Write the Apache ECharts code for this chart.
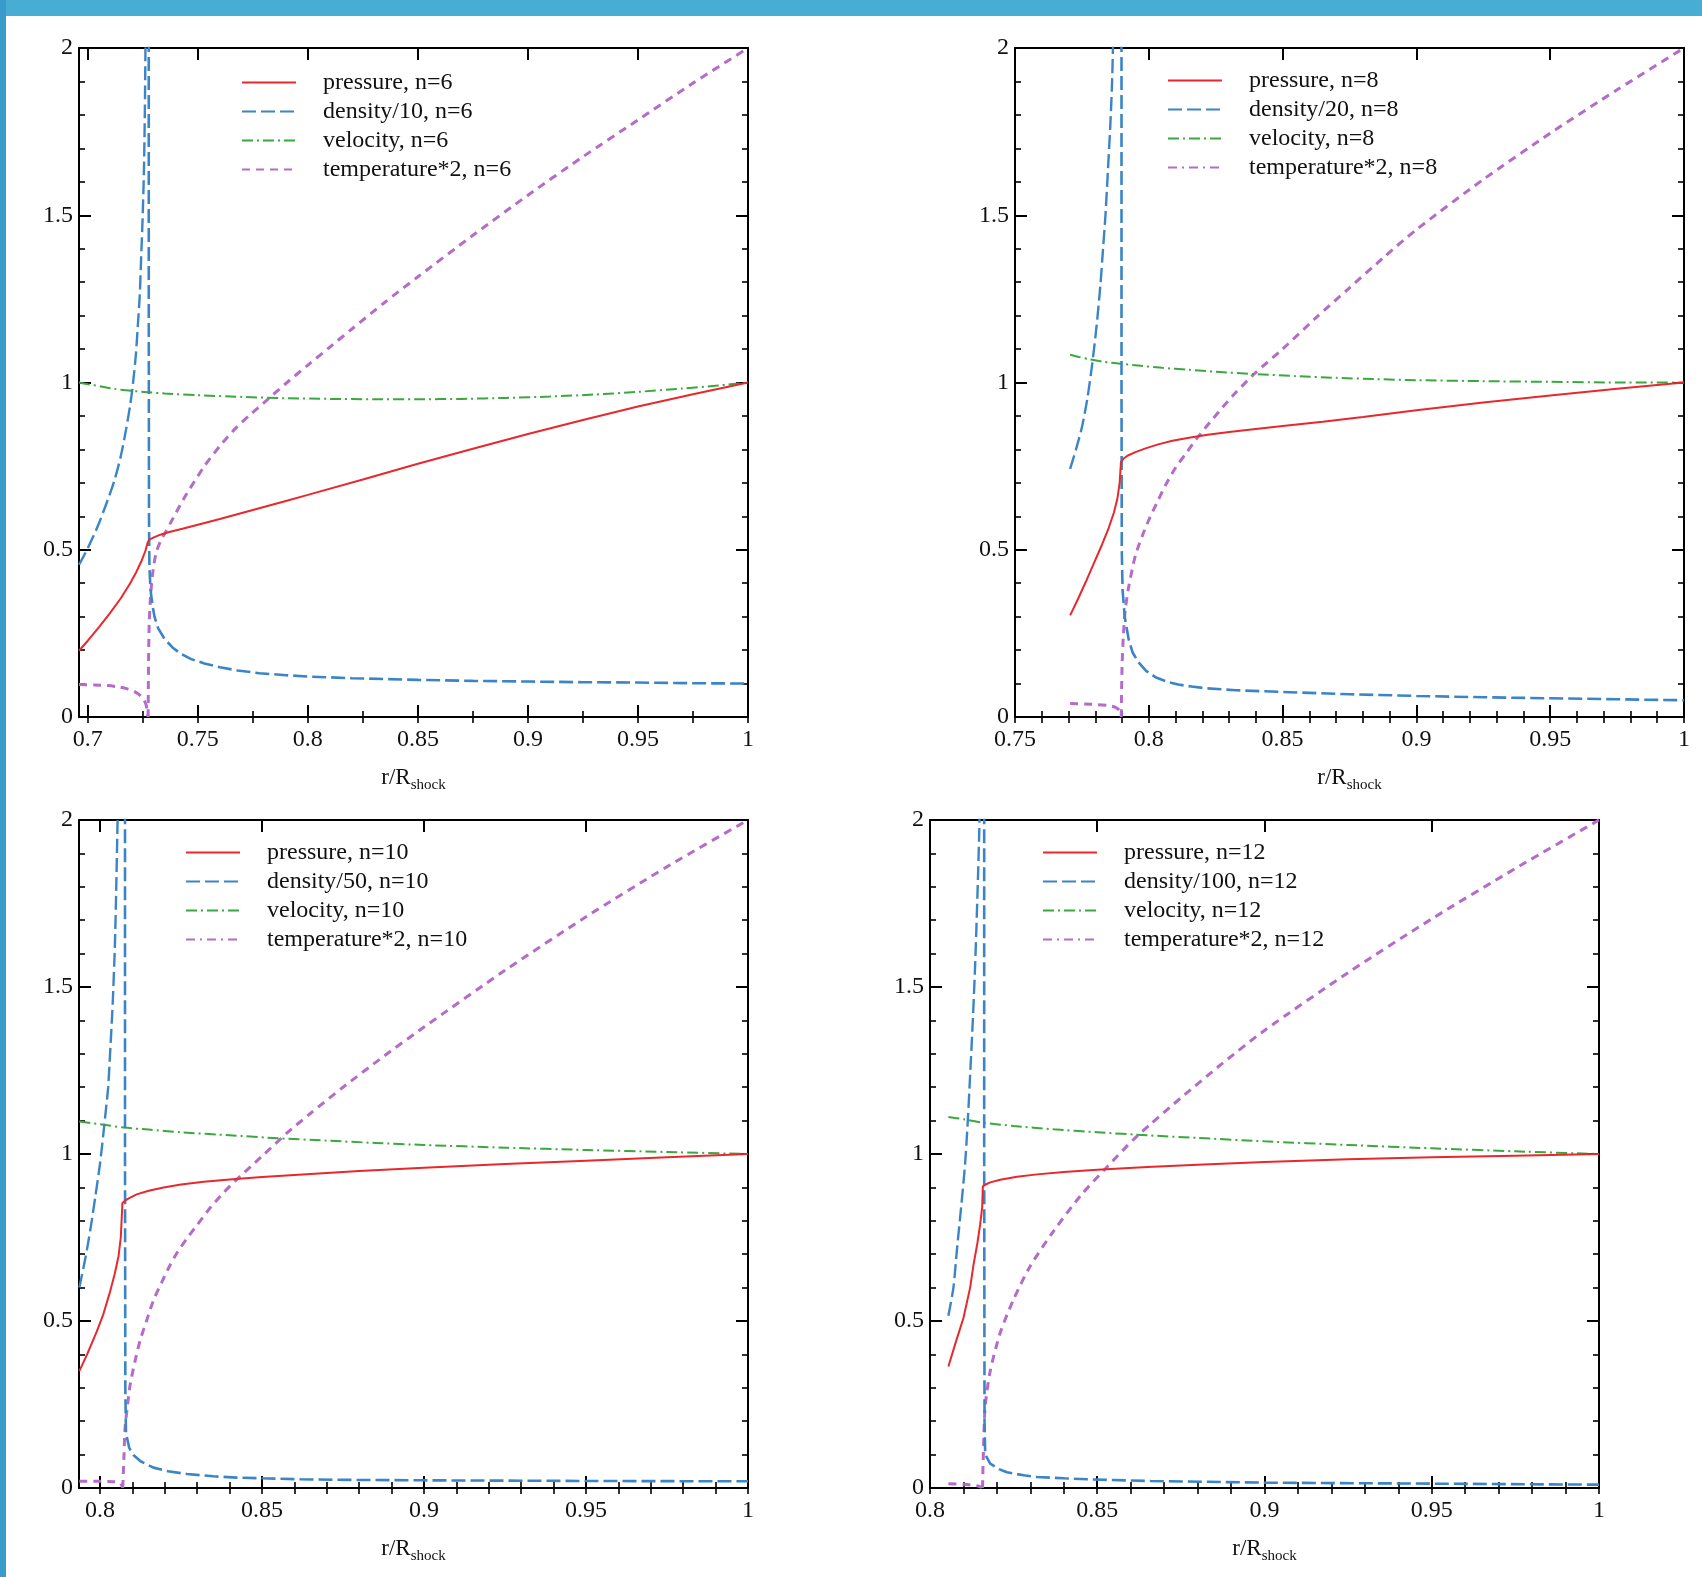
<!DOCTYPE html>
<html>
<head>
<meta charset="utf-8">
<script src="https://cdn.jsdelivr.net/npm/echarts@6/dist/echarts.min.js"></script>
<style>
  html, body { margin: 0; padding: 0; background: #fff; }
  #chart { width: 1702px; height: 1577px; }
</style>
</head>
<body>
<div id="chart"></div>
<script>
// Self-similar shocked-shell profiles between reverse shock and forward shock,
// plotted against r / R_shock for ejecta power-law indices n = 6, 8, 10, 12.

// ---------- tick labels ----------
const Y_MAJOR = [0, 0.5, 1, 1.5, 2];
const X_MAJOR_6 = [0.7, 0.75, 0.8, 0.85, 0.9, 0.95, 1];
const X_MAJOR_8 = [0.75, 0.8, 0.85, 0.9, 0.95, 1];
const X_MAJOR_10 = [0.8, 0.85, 0.9, 0.95, 1];
const X_MAJOR_12 = [0.8, 0.85, 0.9, 0.95, 1];

// ---------- n = 6 ----------
const P6 = [[0.696,0.198],[0.7,0.228],[0.705,0.268],[0.71,0.31],[0.715,0.355],[0.719,0.397],[0.722,0.433],[0.7245,0.468],[0.7262,0.497],[0.7272,0.522],[0.728,0.53],[0.73,0.537],[0.733,0.545],[0.737,0.553],[0.743,0.563],[0.75,0.575],[0.76,0.592],[0.775,0.619],[0.79,0.646],[0.8,0.664],[0.825,0.71],[0.85,0.757],[0.875,0.802],[0.9,0.846],[0.925,0.888],[0.95,0.928],[0.975,0.965],[1,1]];
const V6 = [[0.696,1.0],[0.7,0.995],[0.706,0.988],[0.712,0.981],[0.72,0.975],[0.7272,0.971],[0.735,0.967],[0.75,0.962],[0.77,0.957],[0.79,0.953],[0.81,0.951],[0.83,0.95],[0.85,0.95],[0.87,0.951],[0.89,0.954],[0.91,0.958],[0.93,0.964],[0.95,0.972],[0.97,0.982],[0.985,0.99],[1,1.0]];
const D6_IN = [[0.696,0.455],[0.7,0.505],[0.7045,0.57],[0.708,0.63],[0.712,0.705],[0.715,0.78],[0.7174,0.86],[0.7192,0.93],[0.7205,0.995],[0.7218,1.08],[0.7227,1.167],[0.7236,1.26],[0.7242,1.366],[0.7249,1.49],[0.7255,1.631],[0.7259,1.8],[0.7262,2.0],[0.7264,2.2]];
const D6_OUT = [[0.7277,2.2],[0.7277,1.2],[0.7278,0.6],[0.728,0.45],[0.7285,0.38],[0.7295,0.33],[0.7303,0.3],[0.732,0.265],[0.735,0.232],[0.7385,0.208],[0.742,0.19],[0.747,0.173],[0.753,0.16],[0.76,0.149],[0.768,0.139],[0.778,0.131],[0.79,0.125],[0.8,0.121],[0.82,0.116],[0.85,0.111],[0.875,0.108],[0.9,0.106],[0.925,0.104],[0.95,0.103],[0.975,0.101],[1,0.1]];
const T6_IN = [[0.696,0.097],[0.703,0.096],[0.709,0.094],[0.714,0.09],[0.718,0.084],[0.721,0.077],[0.7235,0.066],[0.7253,0.053],[0.7264,0.038],[0.727,0.02],[0.7273,0.003]];
const T6_OUT = [[0.7274,0.0],[0.7276,0.16],[0.7279,0.28],[0.7285,0.36],[0.7295,0.43],[0.731,0.49],[0.733,0.525],[0.7355,0.555],[0.738,0.585],[0.741,0.622],[0.745,0.668],[0.753,0.75],[0.76,0.81],[0.767,0.862],[0.774,0.905],[0.781,0.945],[0.79,0.997],[0.8,1.052],[0.81,1.106],[0.82,1.16],[0.835,1.24],[0.85,1.316],[0.875,1.44],[0.9,1.56],[0.925,1.675],[0.95,1.785],[0.975,1.895],[1,2.0]];

// ---------- n = 8 ----------
const P8 = [[0.7706,0.304],[0.7735,0.352],[0.7765,0.405],[0.7795,0.46],[0.7825,0.515],[0.785,0.565],[0.787,0.612],[0.7883,0.655],[0.7891,0.7],[0.7896,0.762],[0.7905,0.772],[0.792,0.781],[0.795,0.792],[0.7988,0.803],[0.8035,0.815],[0.8088,0.826],[0.815,0.835],[0.822,0.844],[0.83,0.852],[0.84,0.861],[0.85,0.87],[0.865,0.883],[0.88,0.897],[0.9,0.917],[0.925,0.94],[0.95,0.961],[0.975,0.981],[1,1.0]];
const V8 = [[0.7706,1.083],[0.774,1.076],[0.778,1.069],[0.783,1.062],[0.7895,1.056],[0.797,1.05],[0.805,1.044],[0.815,1.038],[0.825,1.032],[0.84,1.025],[0.855,1.019],[0.87,1.014],[0.885,1.01],[0.9,1.007],[0.925,1.004],[0.95,1.002],[0.975,1.0],[1,1.0]];
const D8_IN = [[0.7706,0.742],[0.7728,0.8],[0.775,0.866],[0.777,0.95],[0.7788,1.052],[0.7805,1.17],[0.7819,1.29],[0.7829,1.4],[0.7838,1.5],[0.7847,1.63],[0.7856,1.766],[0.7862,1.88],[0.7866,2.0],[0.7869,2.2]];
const D8_OUT = [[0.7898,2.2],[0.7898,1.0],[0.7899,0.5],[0.7902,0.38],[0.791,0.3],[0.7925,0.231],[0.794,0.192],[0.796,0.165],[0.799,0.138],[0.8025,0.119],[0.807,0.105],[0.811,0.097],[0.816,0.091],[0.821,0.086],[0.8325,0.08],[0.85,0.075],[0.875,0.068],[0.9,0.063],[0.925,0.059],[0.95,0.056],[0.975,0.053],[1,0.05]];
const T8_IN = [[0.7706,0.04],[0.776,0.039],[0.781,0.037],[0.785,0.034],[0.7875,0.029],[0.789,0.02],[0.7896,0.003]];
const T8_OUT = [[0.7897,0.0],[0.79,0.15],[0.7905,0.245],[0.7912,0.32],[0.7925,0.39],[0.795,0.483],[0.7975,0.54],[0.8,0.589],[0.803,0.64],[0.8063,0.694],[0.81,0.745],[0.8138,0.787],[0.8175,0.828],[0.8213,0.866],[0.8275,0.925],[0.8325,0.97],[0.84,1.03],[0.85,1.1],[0.862,1.19],[0.875,1.283],[0.8875,1.372],[0.9,1.457],[0.925,1.607],[0.95,1.745],[0.975,1.875],[1,2.0]];

// ---------- n = 10 ----------
const P10 = [[0.7936,0.35],[0.796,0.4],[0.799,0.469],[0.801,0.52],[0.8031,0.588],[0.8045,0.64],[0.8057,0.694],[0.8064,0.75],[0.8069,0.853],[0.8078,0.861],[0.809,0.868],[0.8113,0.879],[0.815,0.89],[0.8196,0.9],[0.825,0.909],[0.832,0.917],[0.84,0.924],[0.85,0.931],[0.865,0.94],[0.88,0.949],[0.9,0.959],[0.925,0.97],[0.95,0.98],[0.975,0.99],[1,1.0]];
const V10 = [[0.7936,1.097],[0.8,1.089],[0.8075,1.079],[0.815,1.073],[0.825,1.065],[0.84,1.056],[0.855,1.047],[0.87,1.04],[0.885,1.033],[0.9,1.027],[0.925,1.019],[0.95,1.012],[0.975,1.006],[1,1.0]];
const D10_IN = [[0.7936,0.6],[0.7955,0.69],[0.797,0.773],[0.7985,0.87],[0.8,0.972],[0.8015,1.104],[0.8025,1.2],[0.8031,1.302],[0.8039,1.45],[0.8046,1.632],[0.805,1.8],[0.8054,2.0],[0.8056,2.2]];
const D10_OUT = [[0.8077,2.2],[0.8077,1.0],[0.8078,0.3],[0.808,0.165],[0.809,0.12],[0.8103,0.099],[0.8125,0.08],[0.8165,0.061],[0.821,0.05],[0.8268,0.042],[0.835,0.035],[0.8423,0.031],[0.85,0.029],[0.8619,0.026],[0.88,0.024],[0.9,0.023],[0.95,0.021],[1,0.02]];
const T10_IN = [[0.7936,0.02],[0.8,0.02],[0.804,0.019],[0.8062,0.016],[0.8069,0.003]];
const T10_OUT = [[0.807,0.0],[0.8074,0.1],[0.8077,0.178],[0.8085,0.25],[0.8093,0.31],[0.8108,0.38],[0.8124,0.443],[0.8145,0.505],[0.8165,0.562],[0.819,0.615],[0.8216,0.667],[0.824,0.708],[0.8268,0.747],[0.83,0.788],[0.834,0.839],[0.838,0.883],[0.8423,0.925],[0.8465,0.962],[0.8505,0.998],[0.8577,1.063],[0.865,1.122],[0.875,1.2],[0.8875,1.292],[0.9,1.38],[0.925,1.55],[0.95,1.71],[0.975,1.86],[1,2.0]];

// ---------- n = 12 ----------
const P12 = [[0.8055,0.364],[0.8075,0.43],[0.81,0.509],[0.812,0.6],[0.813,0.668],[0.8142,0.735],[0.815,0.79],[0.8156,0.84],[0.8158,0.903],[0.8165,0.908],[0.818,0.915],[0.821,0.923],[0.826,0.932],[0.832,0.939],[0.84,0.946],[0.85,0.953],[0.865,0.961],[0.88,0.968],[0.9,0.976],[0.925,0.984],[0.95,0.99],[0.975,0.995],[1,1.0]];
const V12 = [[0.8055,1.111],[0.81,1.104],[0.8158,1.094],[0.825,1.084],[0.837,1.074],[0.85,1.065],[0.865,1.056],[0.88,1.048],[0.9,1.038],[0.925,1.027],[0.95,1.017],[0.975,1.008],[1,1.0]];
const D12_IN = [[0.8055,0.516],[0.807,0.6],[0.808,0.708],[0.8093,0.84],[0.8105,0.972],[0.8113,1.1],[0.812,1.237],[0.8128,1.4],[0.8135,1.567],[0.8142,1.78],[0.8148,2.0],[0.815,2.2]];
const D12_OUT = [[0.8162,2.2],[0.8162,1.0],[0.8163,0.2],[0.8165,0.1],[0.818,0.073],[0.8205,0.057],[0.823,0.047],[0.828,0.038],[0.832,0.033],[0.84,0.029],[0.847,0.026],[0.866,0.021],[0.9,0.016],[0.95,0.013],[1,0.01]];
const T12_IN = [[0.8055,0.013],[0.81,0.011],[0.814,0.007],[0.8155,0.002]];
const T12_OUT = [[0.8157,0.0],[0.816,0.12],[0.8165,0.245],[0.818,0.35],[0.821,0.465],[0.825,0.565],[0.83,0.665],[0.837,0.77],[0.845,0.875],[0.853,0.962],[0.861,1.045],[0.866,1.09],[0.875,1.168],[0.8875,1.272],[0.9,1.37],[0.925,1.543],[0.95,1.704],[0.975,1.855],[1,2.0]];

// ---------- styling ----------
const FONT = '"Liberation Serif", "Times New Roman", Times, serif';
const INK = '#111';
const C_P = '#e8282c';
const C_D = '#3b84c6';
const C_V = '#3aa83c';
const C_T = '#b46cc8';

const PANELS = [
  { n: 6,  div: 10,  xMin: 0.696,  xMajor: X_MAJOR_6,  minorStep: 0.025,
    grid: { left: 79, top: 48, width: 669, height: 669 }, legend: { left: 241, top: 68 },
    P: P6, V: V6, D: [D6_IN, D6_OUT], T: [T6_IN, T6_OUT], tLegendDash: [8, 6] },
  { n: 8,  div: 20,  xMin: 0.75,   xMajor: X_MAJOR_8,  minorStep: 0.01,
    grid: { left: 1015, top: 48, width: 669, height: 669 }, legend: { left: 1167, top: 66 },
    P: P8, V: V8, D: [D8_IN, D8_OUT], T: [T8_IN, T8_OUT], tLegendDash: [9, 5, 2, 5] },
  { n: 10, div: 50,  xMin: 0.7935, xMajor: X_MAJOR_10, minorStep: 0.01,
    grid: { left: 79, top: 820, width: 669, height: 668 }, legend: { left: 185, top: 838 },
    P: P10, V: V10, D: [D10_IN, D10_OUT], T: [T10_IN, T10_OUT], tLegendDash: [9, 5, 2, 5] },
  { n: 12, div: 100, xMin: 0.8,    xMajor: X_MAJOR_12, minorStep: 0.01,
    grid: { left: 930, top: 820, width: 669, height: 668 }, legend: { left: 1042, top: 838 },
    P: P12, V: V12, D: [D12_IN, D12_OUT], T: [T12_IN, T12_OUT], tLegendDash: [9, 5, 2, 5] }
];

function stepsBetween(lo, hi, step) {
  const out = [];
  const k0 = Math.ceil(lo / step - 1e-9);
  for (let k = k0; k * step <= hi + 1e-9; k++) out.push(+(k * step).toFixed(4));
  return out;
}

const AXIS_LINE = { show: true, onZero: false, lineStyle: { color: '#000', width: 2 } };
const MAJOR_TICK = (vals) => ({ show: true, inside: true, length: 12, customValues: vals, lineStyle: { color: '#000', width: 2 } });
const MINOR_TICK = (vals) => ({ show: true, inside: true, length: 6, customValues: vals, lineStyle: { color: '#000', width: 1.6 } });
const LABEL = (vals, margin) => ({
  show: true, customValues: vals, margin: margin, fontSize: 24, fontFamily: FONT, color: INK,
  formatter: (v) => String(+(+v).toFixed(3))
});

const grid = [], xAxis = [], yAxis = [], series = [], legend = [];

PANELS.forEach((p, i) => {
  grid.push(Object.assign({ containLabel: false }, p.grid));
  const xMinor = stepsBetween(p.xMin, 1, p.minorStep);
  const yMinor = stepsBetween(0, 2, 0.1);
  const xc = { type: 'value', gridIndex: i, min: p.xMin, max: 1, splitLine: { show: false }, silent: true };
  const yc = { type: 'value', gridIndex: i, min: 0, max: 2, splitLine: { show: false }, silent: true };

  xAxis.push(Object.assign({}, xc, {
    position: 'bottom', axisLine: AXIS_LINE, axisTick: MAJOR_TICK(p.xMajor), axisLabel: LABEL(p.xMajor, 11),
    name: '{a|r/R}{b|shock}', nameLocation: 'middle', nameGap: 46,
    nameTextStyle: {
      color: INK, fontFamily: FONT,
      rich: {
        a: { fontSize: 23, fontFamily: FONT, color: INK, lineHeight: 30, verticalAlign: 'middle' },
        b: { fontSize: 15, fontFamily: FONT, color: INK, lineHeight: 15, verticalAlign: 'bottom' }
      }
    }
  }));
  xAxis.push(Object.assign({}, xc, { position: 'bottom', axisLine: { show: false }, axisTick: MINOR_TICK(xMinor), axisLabel: { show: false } }));
  xAxis.push(Object.assign({}, xc, { position: 'top', axisLine: AXIS_LINE, axisTick: MAJOR_TICK(p.xMajor), axisLabel: { show: false } }));
  xAxis.push(Object.assign({}, xc, { position: 'top', axisLine: { show: false }, axisTick: MINOR_TICK(xMinor), axisLabel: { show: false } }));

  yAxis.push(Object.assign({}, yc, { position: 'left', axisLine: AXIS_LINE, axisTick: MAJOR_TICK(Y_MAJOR), axisLabel: LABEL(Y_MAJOR, 6) }));
  yAxis.push(Object.assign({}, yc, { position: 'left', axisLine: { show: false }, axisTick: MINOR_TICK(yMinor), axisLabel: { show: false } }));
  yAxis.push(Object.assign({}, yc, { position: 'right', axisLine: AXIS_LINE, axisTick: MAJOR_TICK(Y_MAJOR), axisLabel: { show: false } }));
  yAxis.push(Object.assign({}, yc, { position: 'right', axisLine: { show: false }, axisTick: MINOR_TICK(yMinor), axisLabel: { show: false } }));

  const ax = 4 * i;
  const names = {
    P: 'pressure, n=' + p.n,
    D: 'density/' + p.div + ', n=' + p.n,
    V: 'velocity, n=' + p.n,
    T: 'temperature*2, n=' + p.n
  };
  const mk = (name, data, color, width, type, z, smooth) => ({
    type: 'line', name: name, data: data, xAxisIndex: ax, yAxisIndex: ax,
    symbol: 'none', showSymbol: false, clip: true, animation: false, silent: true,
    smooth: smooth ? 0.25 : false,
    lineStyle: { color: color, width: width, type: type, cap: 'butt' },
    itemStyle: { color: color }, z: z
  });
  series.push(mk(names.P, p.P, C_P, 2, 'solid', 5, false));
  series.push(mk(names.D, p.D[0], C_D, 2.4, [14, 5], 4, true));
  series.push(mk(names.D, p.D[1], C_D, 2.6, [14, 5], 4, false));
  series.push(mk(names.V, p.V, C_V, 2, [11, 4, 2, 4], 3, true));
  series.push(mk(names.T, p.T[0], C_T, 3, [8, 6], 2, true));
  series.push(mk(names.T, p.T[1], C_T, 3, [8, 6], 2, true));

  legend.push({
    orient: 'vertical', left: p.legend.left, top: p.legend.top, padding: 0, itemGap: 0,
    itemWidth: 54, itemHeight: 14, selectedMode: false,
    itemStyle: { opacity: 0 },
    data: [names.P, names.D, names.V, { name: names.T, lineStyle: { type: p.tLegendDash } }],
    textStyle: { fontSize: 24, fontFamily: FONT, color: INK, lineHeight: 29, padding: [0, 0, 0, 22] }
  });
});

const chart = echarts.init(document.getElementById('chart'), null, { renderer: 'canvas' });
chart.setOption({
  backgroundColor: '#ffffff',
  animation: false,
  graphic: [
    { type: 'rect', left: 0, top: 0, z: -10, shape: { width: 1702, height: 16 }, style: { fill: '#47add3' } },
    { type: 'rect', left: 0, top: 0, z: -10, shape: { width: 6, height: 1577 }, style: { fill: '#3a9bcb' } }
  ],
  grid: grid,
  xAxis: xAxis,
  yAxis: yAxis,
  legend: legend,
  series: series
});
</script>
</body>
</html>
